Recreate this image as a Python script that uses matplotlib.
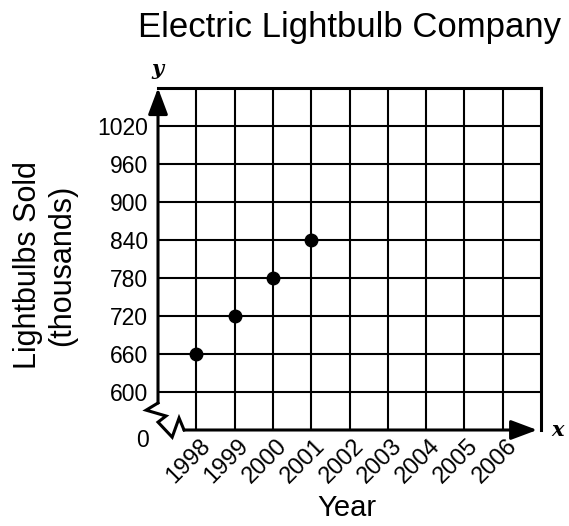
import matplotlib
matplotlib.use("Agg")
import matplotlib.pyplot as plt
import matplotlib.transforms as mtransforms
import numpy as np

# data
years = [1998, 1999, 2000, 2001]
sold = [660, 720, 780, 840]
x_ticks = [1998, 1999, 2000, 2001, 2002, 2003, 2004, 2005, 2006]
y_ticks = [600, 660, 720, 780, 840, 900, 960, 1020]

plt.rcParams['font.family'] = ['Liberation Sans', 'DejaVu Sans']

fig = plt.figure(figsize=(5.69, 5.26), dpi=100)
ax = fig.add_axes([158 / 569, 1 - 430 / 526, 383 / 569, 342 / 526])

ax.set_xlim(1997, 2007)
ax.set_ylim(540, 1080)  # 540 stands in for the broken "0"

# grid
ax.set_xticks(x_ticks)
ax.set_yticks(y_ticks)
ax.grid(True, color='black', linewidth=1.5)
ax.set_axisbelow(True)
ax.tick_params(axis='both', length=0)
ax.tick_params(axis='y', labelsize=16.5, pad=7)
ax.set_xticklabels([])

# border
for side in ['top', 'right']:
    ax.spines[side].set_linewidth(2.2)
ax.spines['left'].set_visible(False)
ax.spines['bottom'].set_visible(False)

# data points
ax.plot(years, sold, 'o', color='black', markersize=9, zorder=5)

# axes with arrows
arrow = dict(arrowstyle='-|>,head_length=0.8,head_width=0.3', color='black',
             lw=2.2, shrinkA=0, shrinkB=0, mutation_scale=20)
ax.annotate('', xy=(0, 1.0), xytext=(0, 0.079), xycoords='axes fraction',
            textcoords='axes fraction', arrowprops=arrow, annotation_clip=False)
ax.annotate('', xy=(0.99, 0), xytext=(0.068, 0), xycoords='axes fraction',
            textcoords='axes fraction', arrowprops=arrow, annotation_clip=False)

# axis break zigzag
bx = [0.0, -0.031, 0.021, 0.0, 0.037, 0.055, 0.068]
by = [0.079, 0.058, 0.041, 0.023, -0.021, 0.035, 0.0]
ax.plot(bx, by, color='black', lw=2.2, transform=ax.transAxes, clip_on=False,
        solid_joinstyle='miter')

ax.text(-0.024, -0.03, '0', transform=ax.transAxes, ha='right', va='center',
        fontsize=16.5)

# rotated year labels
trans = mtransforms.blended_transform_factory(ax.transData, ax.transAxes)
offset = mtransforms.ScaledTranslation(3 / 100, -5 / 100, fig.dpi_scale_trans)
for yr in x_ticks:
    ax.text(yr, 0, str(yr), transform=trans + offset, rotation=45,
            ha='right', va='top', rotation_mode='anchor', fontsize=17)

# axis letters
ax.text(157 / 569, 1 - 69 / 526, 'y', transform=fig.transFigure, ha='center',
        va='center', fontsize=15, family='DejaVu Serif', style='italic',
        weight='bold')
ax.text(558 / 569, 1 - 430 / 526, 'x', transform=fig.transFigure, ha='center',
        va='center', fontsize=15, family='DejaVu Serif', style='italic',
        weight='bold')

fig.text(349 / 569, 1 - 27 / 526, 'Electric Lightbulb Company', ha='center',
         va='center', fontsize=25)
fig.text(45 / 569, 1 - 265 / 526, 'Lightbulbs Sold\n(thousands)', rotation=90,
         ha='center', va='center', multialignment='center', fontsize=22,
         linespacing=1.2)
fig.text(347 / 569, 1 - 508 / 526, 'Year', ha='center', va='center', fontsize=21)

fig.savefig('out.png', dpi=100)
